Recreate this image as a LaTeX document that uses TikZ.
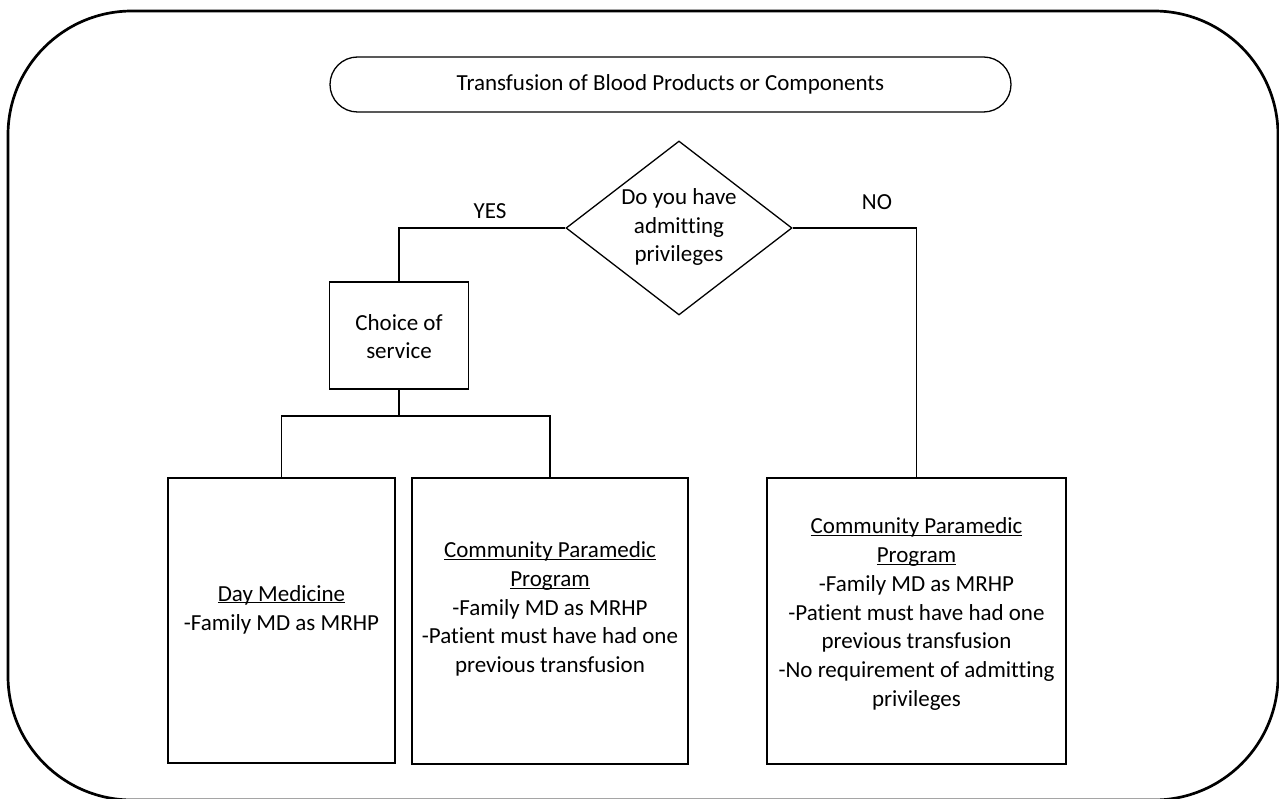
\documentclass[tikz,border=0pt]{standalone}
\usepackage{fontspec}
\setmainfont{Carlito}[Ligatures=NoCommon]
\usetikzlibrary{shapes.geometric}
\newcommand{\ulx}[1]{\underline{\smash{#1}}}
\begin{document}
\begin{tikzpicture}[x=1pt,y=-1pt,
  every node/.style={font=\fontsize{23}{28.8}\selectfont},
  boxnode/.style={draw, line width=1.3pt, inner sep=0pt},
  txtnode/.style={align=center, inner sep=0pt},
  edge line/.style={line width=1.3pt}]
\useasboundingbox (0,0) rectangle (1279,799);
% outer frame
\draw[line width=2.7pt, rounded corners=124pt] (8,11) rectangle (1278,800);
% title
\node[boxnode, rounded corners=27.5pt, minimum width=681pt, minimum height=55pt] (title) at (670.5,84.5) {Transfusion of Blood Products or Components};
% decision
\node[draw, diamond, line width=1.3pt, aspect=1.3, inner sep=0pt, minimum width=226pt, minimum height=174pt] (dia) at (679,228) {};
\node[txtnode] (diatxt) at (679,227) {Do you have\\admitting\\privileges};
% choice of service
\node[boxnode, minimum width=139pt, minimum height=107pt] (choice) at (399,335.5) {};
\node[txtnode] (choicetxt) at (399,336.5) {Choice of\\service};
% bottom boxes
\node[boxnode, minimum width=227pt, minimum height=285pt] (day) at (281.5,620.5) {};
\node[txtnode] (daytxt) at (281.5,617.5) {\ulx{Day Medicine}\\-Family MD as MRHP};
\node[boxnode, minimum width=276pt, minimum height=286pt] (cpp1) at (550,621) {};
\node[txtnode] (cpp1txt) at (550,617) {\ulx{Community Paramedic}\\\ulx{Program}\\-Family MD as MRHP\\-Patient must have had one\\previous transfusion};
\node[boxnode, minimum width=299pt, minimum height=286pt] (cpp2) at (916.5,621) {};
\node[txtnode] (cpp2txt) at (916.5,622) {\ulx{Community Paramedic}\\\ulx{Program}\\-Family MD as MRHP\\-Patient must have had one\\previous transfusion\\-No requirement of admitting\\privileges};
% connectors
\coordinate (bus) at (399,416);
\draw[edge line] (dia.west) -| (choice.north);
\draw[edge line] (dia.east) -| (cpp2.north);
\draw[edge line] (choice.south) -- (bus);
\draw[edge line] (day.north) -- (day.north |- bus) -- (cpp1.north |- bus) -- (cpp1.north);
% labels
\node[anchor=base, inner sep=0pt] (yes) at (490,219) {YES};
\node[anchor=base, inner sep=0pt] (no) at (877,210) {NO};
\end{tikzpicture}
\end{document}
